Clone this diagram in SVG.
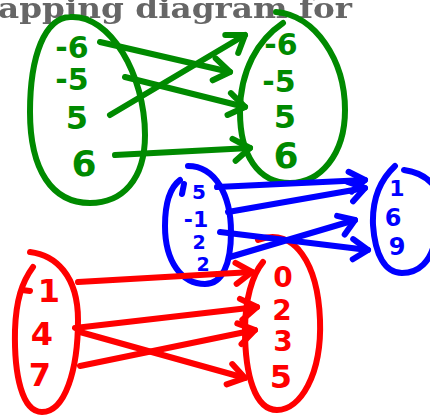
<svg xmlns="http://www.w3.org/2000/svg" width="430" height="418" viewBox="0 0 430 418">
<style>
.g{stroke:#008a00}.b{stroke:#0000ff}.r{stroke:#ff0000}
.s{fill:none;stroke-width:6;stroke-linecap:round;stroke-linejoin:round}
.tg{fill:#008a00}.tb{fill:#0000ff}.tr{fill:#ff0000}
.t{font-family:"DejaVu Sans",sans-serif;font-weight:bold;text-anchor:middle}
.title{font-family:"DejaVu Serif","Liberation Serif",serif;font-weight:bold;fill:#666;font-size:27px}
</style>
<defs>
<filter id="soft" x="-5%" y="-20%" width="110%" height="140%"><feGaussianBlur stdDeviation="0.6"/></filter>
<marker id="ag" markerUnits="userSpaceOnUse" markerWidth="40" markerHeight="40" refX="20" refY="20" orient="auto" overflow="visible"><path d="M3,10 L20,20 L5,32" fill="none" stroke="#008a00" stroke-width="6" stroke-linecap="round" stroke-linejoin="round"/></marker>
<marker id="ab" markerUnits="userSpaceOnUse" markerWidth="40" markerHeight="40" refX="20" refY="20" orient="auto" overflow="visible"><path d="M4,11 L20,20 L6,31" fill="none" stroke="#0000ff" stroke-width="6" stroke-linecap="round" stroke-linejoin="round"/></marker>
<marker id="ar" markerUnits="userSpaceOnUse" markerWidth="40" markerHeight="40" refX="20" refY="20" orient="auto" overflow="visible"><path d="M4,10 L20,20 L4,31" fill="none" stroke="#ff0000" stroke-width="6" stroke-linecap="round" stroke-linejoin="round"/></marker>
</defs>
<rect width="430" height="418" fill="#fff"/>
<text class="title" x="-2" y="18" textLength="354" lengthAdjust="spacingAndGlyphs" filter="url(#soft)">apping diagram for</text>

<g id="green-domain">
<path class="s g" d="M70,17 C110,14 145,75 145,135 C145,180 122,203 90,203 C52,203 30,170 30,112 C30,55 45,18 70,17 Z"/>
<text class="t tg" x="72" y="58" font-size="30">-6</text>
<text class="t tg" x="72" y="90" font-size="30">-5</text>
<text class="t tg" x="77" y="129" font-size="32">5</text>
<text class="t tg" x="84" y="176" font-size="36">6</text>
</g>
<g id="green-range">
<path class="s g" d="M276,12 C315,15 345,60 345,110 C345,155 320,183 290,183 C258,183 240,155 240,112 C240,70 258,40 283,23"/>
<text class="t tg" x="281" y="55" font-size="30">-6</text>
<text class="t tg" x="279" y="92" font-size="30">-5</text>
<text class="t tg" x="285" y="128" font-size="32">5</text>
<text class="t tg" x="286" y="168" font-size="36">6</text>
</g>
<g id="blue-domain">
<path class="s b" d="M188,166 C215,166 231,195 231,232 C231,265 222,284 205,284 C182,284 165,262 165,226 C165,200 172,186 180,180"/>
<path class="s b" d="M184,184 L182,194"/>
<text class="t tb" x="199" y="199" font-size="20">5</text>
<text class="t tb" x="196" y="227" font-size="22">-1</text>
<text class="t tb" x="199" y="249" font-size="19">2</text>
<text class="t tb" x="203" y="271" font-size="19">2</text>
</g>
<g id="blue-range">
<path class="s b" d="M395,166 C380,180 372,200 373,225 C375,255 385,273 402,273 C420,273 430,260 434,245"/>
<path class="s b" d="M404,170 C418,172 428,178 434,186"/>
<text class="t tb" x="397" y="196" font-size="22">1</text>
<text class="t tb" x="393" y="226" font-size="24">6</text>
<text class="t tb" x="397" y="255" font-size="24">9</text>
</g>
<g id="red-domain">
<path class="s r" d="M30,252 C55,255 78,275 78,320 C78,370 65,412 42,412 C22,412 14,375 15,330 C16,300 22,282 33,267"/>
<path class="s r" d="M22,290 L30,291"/>
<text class="t tr" x="49" y="302" font-size="32">1</text>
<text class="t tr" x="42" y="345" font-size="32">4</text>
<text class="t tr" x="40" y="386" font-size="32">7</text>
</g>
<g id="red-range">
<path class="s r" d="M258,240 C295,226 318,265 320,320 C322,375 300,410 277,410 C255,410 245,375 245,330 C245,300 252,275 263,262"/>
<text class="t tr" x="283" y="287" font-size="28">0</text>
<text class="t tr" x="282" y="320" font-size="28">2</text>
<text class="t tr" x="283" y="351" font-size="28">3</text>
<text class="t tr" x="281" y="388" font-size="32">5</text>
</g>

<g id="connectors">
<path class="s g" d="M100,42 L230,72" marker-end="url(#ag)"/>
<path class="s g" d="M125,77 L245,107" marker-end="url(#ag)"/>
<path class="s g" d="M110,115 L245,35" marker-end="url(#ag)"/>
<path class="s g" d="M115,155 L250,148" marker-end="url(#ag)"/>
<path class="s b" d="M217,187 L365,180" marker-end="url(#ab)"/>
<path class="s b" d="M228,212 L365,188" marker-end="url(#ab)"/>
<path class="s b" d="M220,232 L368,250" marker-end="url(#ab)"/>
<path class="s b" d="M230,257 L355,220" marker-end="url(#ab)"/>
<path class="s r" d="M78,282 L252,272" marker-end="url(#ar)"/>
<path class="s r" d="M75,328 L257,307" marker-end="url(#ar)"/>
<path class="s r" d="M80,366 L255,330" marker-end="url(#ar)"/>
<path class="s r" d="M80,332 L245,378" marker-end="url(#ar)"/>
</g>
</svg>
